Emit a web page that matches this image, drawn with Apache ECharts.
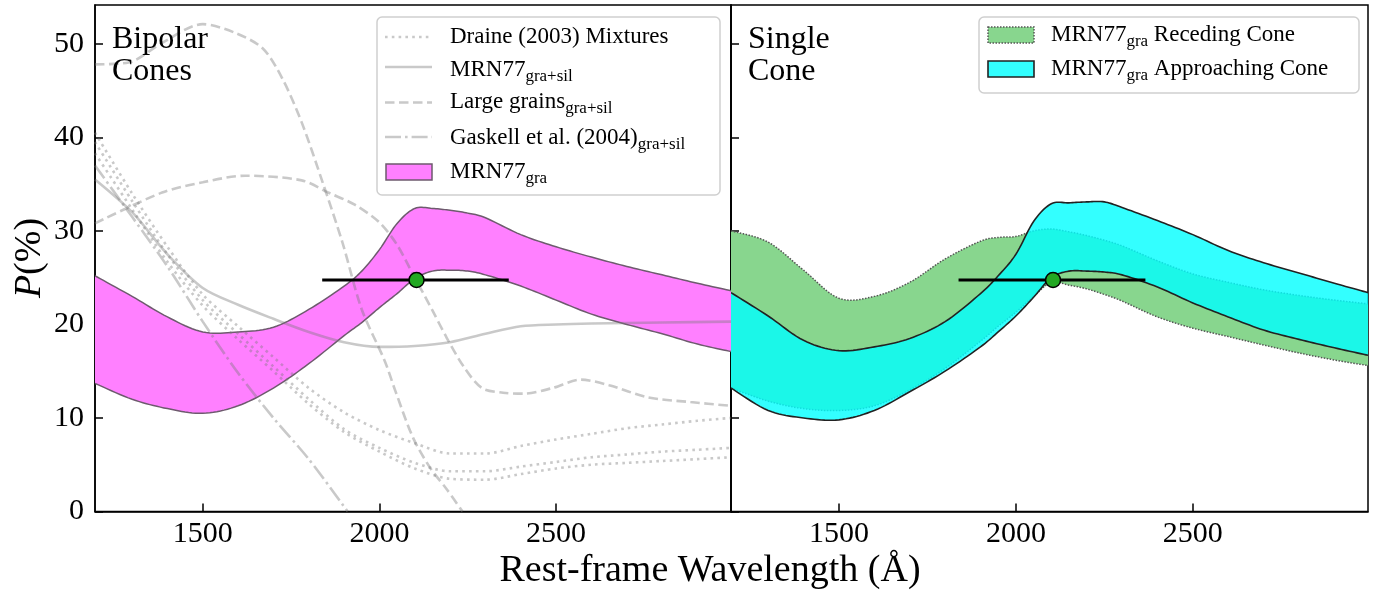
<!DOCTYPE html>
<html><head><meta charset="utf-8">
<script src="https://cdn.jsdelivr.net/npm/echarts@6/dist/echarts.min.js"></script>
<style>html,body{margin:0;padding:0;background:#fff}#c{width:1381px;height:594px}</style>
</head><body><div id="c"></div>
<script>
const FONT = '"Liberation Serif","DejaVu Serif",serif';
const xTicks = [1500, 2000, 2500];
const yTicks = [0, 10, 20, 30, 40, 50];

// Band wavelength grid (Å)
const bandX = [1195,1300,1400,1500,1600,1700,1800,1900,1950,2000,2050,2100,2150,2200,2250,2300,2400,2500,2600,2700,2800,2900,2995];
// Left panel: MRN77 gra bipolar cones
const graBiLow  = [13.7,12.0,11.0,10.5,11.3,13.2,15.8,18.8,20.2,21.8,23.3,24.9,25.7,25.8,25.7,25.3,24.1,22.6,21.1,20.0,19.0,17.9,17.1];
const graBiHigh = [25.2,23.0,20.8,19.2,19.2,19.7,21.6,24.1,25.7,28.0,30.8,32.4,32.4,32.2,31.9,31.4,29.6,28.3,27.2,26.2,25.3,24.4,23.6];
// Right panel: receding cone
const recLow  = [13.2,11.8,11.0,10.8,11.3,13.0,15.3,18.2,19.8,21.3,23.0,24.5,24.2,23.8,23.2,22.5,20.8,19.6,18.7,17.8,16.95,16.2,15.6];
const recHigh = [30.0,28.8,25.8,22.8,23.0,24.5,27.0,28.9,29.3,29.4,30.0,30.2,29.9,29.5,29.0,28.4,26.8,25.4,24.5,23.7,23.1,22.6,22.2];
// Right panel: approaching cone
const appLow  = [13.2,10.8,10.0,9.8,10.8,12.8,15.0,17.6,19.2,20.9,22.9,25.0,25.7,25.7,25.6,25.3,24.0,22.3,20.8,19.4,18.4,17.5,16.7];
const appHigh = [23.4,20.9,18.3,17.2,17.6,18.5,20.3,23.3,25.2,27.5,31.0,32.9,33.0,33.1,33.1,32.5,31.1,29.6,27.9,26.6,25.5,24.4,23.4];

// Grey model curves (left panel)
const draineX = [1195,1300,1400,1500,1600,1700,1800,1900,2000,2100,2200,2300,2400,2500,2600,2700,2800,2900,2995];
const draine1 = [40.5,34.0,28.3,23.2,19.8,16.5,13.2,10.6,8.7,7.3,6.2,6.2,7.0,7.7,8.3,8.9,9.3,9.7,10.0];
const draine2 = [39.5,33.2,27.5,22.6,19.0,15.5,12.0,8.8,6.8,5.2,4.3,4.3,4.8,5.3,5.8,6.1,6.4,6.6,6.8];
const draine3 = [38.3,32.3,26.7,22.0,18.4,15.0,11.5,8.5,6.4,4.6,3.5,3.4,4.0,4.6,5.0,5.2,5.4,5.6,5.8];
const mrnSilX = [1195,1300,1400,1500,1600,1700,1800,1900,2000,2100,2200,2300,2400,2500,2600,2800,2995];
const mrnSil  = [35.5,32.0,27.5,23.9,22.1,20.6,19.2,18.1,17.6,17.7,18.1,19.0,19.8,20.0,20.1,20.2,20.3];
const large1X = [1195,1290,1385,1500,1590,1670,1725,1780,1840,1895,1950,2015,2045,2095,2143,2192,2235];
const large1  = [47.8,48.0,50.1,52.1,51.2,49.5,46.3,41.6,35.1,28.8,21.6,16.1,12.9,7.9,4.7,2.3,0];
const large2X = [1195,1385,1500,1620,1780,1855,1930,2000,2050,2100,2150,2190,2240,2290,2350,2410,2490,2570,2650,2760,2880,2995];
const large2  = [30.8,34.1,35.2,35.9,35.4,34.1,32.8,30.9,28.5,25.0,21.5,18.6,15.4,13.2,12.7,12.6,13.2,14.1,13.5,12.2,11.7,11.3];
const gaskX = [1195,1300,1400,1500,1600,1700,1800,1910];
const gask  = [37.0,31.5,26.2,20.3,14.8,10.0,5.6,0];

// Observed point with error bar
const obsX = 2105, obsP = 24.75, obsXmin = 1838, obsXmax = 2366;

const GREY = 'rgba(120,120,120,0.4)';
const pairs = (xs, ys) => xs.map((x, i) => [x, ys[i]]);

// Catmull-Rom rendering of pixel points (drawing only)
function spline(pts) {
  const out = [];
  const n = pts.length;
  for (let i = 0; i < n - 1; i++) {
    const p0 = pts[Math.max(i - 1, 0)], p1 = pts[i], p2 = pts[i + 1], p3 = pts[Math.min(i + 2, n - 1)];
    const steps = 10;
    for (let s = 0; s < steps; s++) {
      const t = s / steps, t2 = t * t, t3 = t2 * t;
      const f = (a, b, c, d) => 0.5 * ((2 * b) + (-a + c) * t + (2 * a - 5 * b + 4 * c - d) * t2 + (-a + 3 * b - 3 * c + d) * t3);
      out.push([f(p0[0], p1[0], p2[0], p3[0]), f(p0[1], p1[1], p2[1], p3[1])]);
    }
  }
  out.push(pts[n - 1]);
  return out;
}

function band(xi, lower, upper, fill, edge, z) {
  return {
    type: 'custom', xAxisIndex: xi, yAxisIndex: xi, z: z, silent: true, clip: true,
    data: [[bandX[0], lower[0]]],
    renderItem: function (params, api) {
      const lo = spline(bandX.map((x, i) => api.coord([x, lower[i]])));
      const hi = spline(bandX.map((x, i) => api.coord([x, upper[i]])));
      const poly = hi.concat(lo.slice().reverse());
      return { type: 'group', children: [
        { type: 'polygon', shape: { points: poly }, style: { fill: fill, stroke: null } },
        { type: 'polyline', shape: { points: lo }, style: Object.assign({ fill: null }, edge) },
        { type: 'polyline', shape: { points: hi }, style: Object.assign({ fill: null }, edge) }
      ] };
    }
  };
}
function greyLine(xs, ys, type) {
  return { type: 'line', xAxisIndex: 0, yAxisIndex: 0, data: pairs(xs, ys), symbol: 'none', smooth: 0.3,
    lineStyle: { color: GREY, width: 2.6, type: type, cap: 'butt' }, z: 4, silent: true };
}
function obs(xi) {
  return [
    { type: 'line', xAxisIndex: xi, yAxisIndex: xi, data: [[obsXmin, obsP], [obsXmax, obsP]], symbol: 'none',
      lineStyle: { color: '#000', width: 3 }, z: 10, silent: true },
    { type: 'scatter', xAxisIndex: xi, yAxisIndex: xi, data: [[obsX, obsP]], symbolSize: 15,
      itemStyle: { color: '#22a822', borderColor: '#000', borderWidth: 1.5, opacity: 1 }, z: 11, silent: true }
  ];
}

const DOT = [2.6, 4.2], DASH = [9.5, 4.5], DASHDOT = [16, 4, 2.6, 4];

const series = [
  band(0, graBiLow, graBiHigh, '#ff80ff', { stroke: '#6e5a6e', lineWidth: 1.5 }, 2),
  greyLine(draineX, draine1, DOT),
  greyLine(draineX, draine2, DOT),
  greyLine(draineX, draine3, DOT),
  greyLine(mrnSilX, mrnSil, 'solid'),
  greyLine(large1X, large1, DASH),
  greyLine(large2X, large2, DASH),
  greyLine(gaskX, gask, DASHDOT),
  ...obs(0),
  band(1, recLow, recHigh, '#88d68e', { stroke: '#555', lineWidth: 1.5, lineDash: [1.5, 1.5] }, 2),
  band(1, appLow, appHigh, 'rgba(0,255,255,0.8)', { stroke: '#222', lineWidth: 1.6 }, 4),
  ...obs(1)
];

function xAx(gi) {
  return { type: 'value', gridIndex: gi, min: 1195, max: 2995,
    axisLine: { show: true, lineStyle: { color: '#000', width: 1.5 } },
    axisTick: { show: true, inside: true, length: 8, lineStyle: { color: '#000', width: 1.5 }, customValues: xTicks },
    axisLabel: { show: true, customValues: xTicks, formatter: v => String(v), fontSize: 30, fontFamily: FONT, color: '#000', margin: 8 },
    splitLine: { show: false } };
}
function yAx(gi) {
  return { type: 'value', gridIndex: gi, min: 0, max: 54.15,
    axisLine: { show: true, lineStyle: { color: '#000', width: 1.5 } },
    axisTick: { show: true, inside: true, length: 8, lineStyle: { color: '#000', width: 1.5 }, customValues: yTicks },
    axisLabel: { show: gi === 0, customValues: yTicks, formatter: v => String(v), fontSize: 30, fontFamily: FONT, color: '#000', margin: 11 },
    splitLine: { show: false } };
}

const rich = { m: { fontSize: 23, lineHeight: 24, verticalAlign: 'top', fontFamily: FONT },
               s: { fontSize: 17, lineHeight: 17, padding: [10, 0, 0, 0], verticalAlign: 'top', fontFamily: FONT } };
function legText(x, y, t) {
  return { type: 'text', x: x, y: y - 12, z: 101, style: { text: t, rich: rich, fill: '#000', align: 'left', verticalAlign: 'top', fontFamily: FONT, fontSize: 23 } };
}
function legLine(y, dash) {
  return { type: 'line', z: 101, shape: { x1: 385, y1: y, x2: 432, y2: y },
    style: { stroke: 'rgb(201,201,201)', lineWidth: 2.6, lineDash: dash } };
}

const graphic = [
  { type: 'text', x: 710, y: 571, style: { text: 'Rest-frame Wavelength (Å)', fontSize: 38, fontFamily: FONT, fill: '#000', align: 'center', verticalAlign: 'middle' } },
  { type: 'text', x: 30, y: 258, rotation: Math.PI / 2,
    style: { text: '{i|P}(%)', fontSize: 38, fontFamily: FONT, fill: '#000', align: 'center', verticalAlign: 'middle',
      rich: { i: { fontStyle: 'italic', fontSize: 38, fontFamily: FONT } } } },
  { type: 'text', x: 112, y: 24, z: 50, style: { text: 'Bipolar\nCones', fontSize: 32, lineHeight: 32, fontFamily: FONT, fill: '#000', align: 'left', verticalAlign: 'top' } },
  { type: 'text', x: 748, y: 24, z: 50, style: { text: 'Single\nCone', fontSize: 32, lineHeight: 32, fontFamily: FONT, fill: '#000', align: 'left', verticalAlign: 'top' } },
  { type: 'rect', z: 100, shape: { x: 377, y: 17, width: 343, height: 178, r: 5 },
    style: { fill: 'rgba(255,255,255,0.85)', stroke: '#cfcfcf', lineWidth: 1.5 } },
  legLine(37, DOT), legLine(67, null), legLine(102.5, DASH), legLine(137, DASHDOT),
  { type: 'rect', z: 101, shape: { x: 386, y: 164, width: 46, height: 16 },
    style: { fill: '#ff80ff', stroke: '#6e5a6e', lineWidth: 1.5 } },
  legText(450, 37, '{m|Draine (2003) Mixtures}'),
  legText(450, 70, '{m|MRN77}{s|gra+sil}'),
  legText(450, 102, '{m|Large grains}{s|gra+sil}'),
  legText(450, 138, '{m|Gaskell et al. (2004)}{s|gra+sil}'),
  legText(450, 172, '{m|MRN77}{s|gra}'),
  { type: 'rect', z: 100, shape: { x: 979, y: 17, width: 380, height: 76, r: 5 },
    style: { fill: 'rgba(255,255,255,0.85)', stroke: '#cfcfcf', lineWidth: 1.5 } },
  { type: 'rect', z: 101, shape: { x: 988, y: 27, width: 46, height: 16 },
    style: { fill: '#88d68e', stroke: '#555', lineWidth: 1.5, lineDash: [1.5, 1.5] } },
  { type: 'rect', z: 101, shape: { x: 988, y: 61, width: 46, height: 16 },
    style: { fill: '#33ffff', stroke: '#222', lineWidth: 1.6 } },
  legText(1051, 35, '{m|MRN77}{s|gra}{m| Receding Cone}'),
  legText(1051, 69, '{m|MRN77}{s|gra}{m| Approaching Cone}')
];

const chart = echarts.init(document.getElementById('c'), null, { renderer: 'canvas' });
chart.setOption({
  animation: false,
  backgroundColor: '#fff',
  grid: [
    { left: 95, top: 5, width: 636, height: 506.5, show: true, borderColor: '#000', borderWidth: 1.5, backgroundColor: 'transparent' },
    { left: 731, top: 5, width: 637, height: 506.5, show: true, borderColor: '#000', borderWidth: 1.5, backgroundColor: 'transparent' }
  ],
  xAxis: [xAx(0), xAx(1)],
  yAxis: [yAx(0), yAx(1)],
  series: series,
  graphic: graphic
});
</script></body></html>
